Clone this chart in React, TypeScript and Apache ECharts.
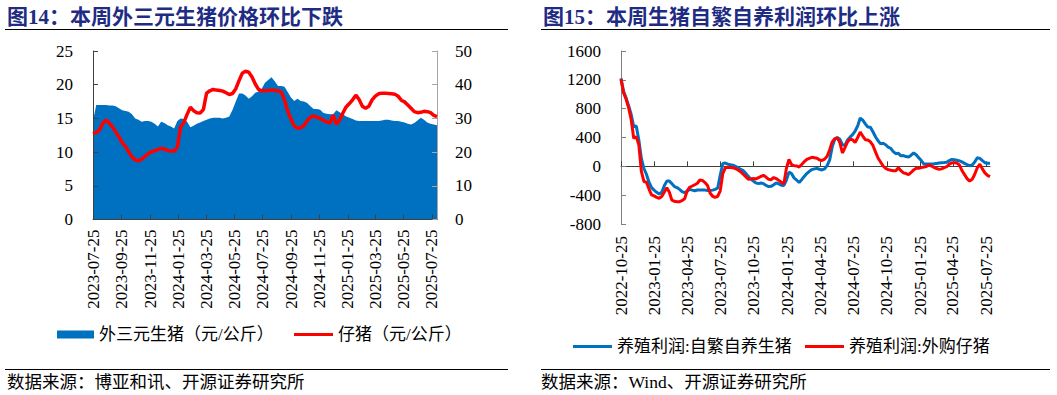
import React, { useEffect, useRef } from "react";
import * as echarts from "echarts";

// ---------- texts ----------
const leftTitle = "图14：本周外三元生猪价格环比下跌";
const rightTitle = "图15：本周生猪自繁自养利润环比上涨";
const leftSource = "数据来源：博亚和讯、开源证券研究所";
const rightSource = "数据来源：Wind、开源证券研究所";
const leftNames = ["外三元生猪（元/公斤）", "仔猪（元/公斤）"];
const rightNames = ["养殖利润:自繁自养生猪", "养殖利润:外购仔猪"];

// ---------- tick labels ----------
const leftTickLabels = [
  "2023-07-25", "2023-09-25", "2023-11-25", "2024-01-25", "2024-03-25", "2024-05-25", "2024-07-25",
  "2024-09-25", "2024-11-25", "2025-01-25", "2025-03-25", "2025-05-25", "2025-07-25",
];
const rightTickLabels = [
  "2022-10-25", "2023-01-25", "2023-04-25", "2023-07-25", "2023-10-25", "2024-01-25",
  "2024-04-25", "2024-07-25", "2024-10-25", "2025-01-25", "2025-04-25", "2025-07-25",
];

// ---------- weekly data ----------
const leftStart = "2023-07-25";
const rightStart = "2022-10-25";

// 外三元生猪（元/公斤）, left axis
const leftHog = [
  14.6, 17.0, 17.0, 17.0, 17.0, 16.9, 16.9, 16.8, 16.5, 16.2,
  16.1, 16.0, 15.6, 15.0, 14.8, 14.5, 14.6, 14.6, 14.5, 14.2,
  13.8, 14.5, 14.3, 14.0, 13.8, 13.5, 14.6, 15.0, 14.9, 14.5,
  13.7, 13.9, 14.2, 14.4, 14.6, 14.8, 15.0, 15.1, 15.1, 15.1,
  15.0, 15.1, 15.3, 16.3, 17.5, 18.7, 18.7, 18.4, 17.9, 18.3,
  18.8, 19.0, 19.4, 20.3, 20.7, 21.1, 20.5, 19.8, 19.8, 19.7,
  18.9, 18.1, 17.6, 17.9, 17.6, 17.5, 17.3, 16.8, 16.4, 16.4,
  16.3, 15.8, 15.7, 15.6, 15.6, 16.2, 15.9, 15.6, 15.3, 15.1,
  14.9, 14.7, 14.6, 14.6, 14.6, 14.6, 14.6, 14.6, 14.6, 14.7,
  14.8, 14.8, 14.7, 14.6, 14.6, 14.5, 14.4, 14.2, 14.1, 14.3,
  14.7, 15.1, 14.8, 14.4, 14.2, 14.1, 14.0,
];

// 仔猪（元/公斤）, right axis
const leftPiglet = [
  25.5, 25.8, 26.6, 28.5, 29.5, 28.7, 27.5, 26.0, 24.5, 22.8,
  21.7, 20.1, 18.6, 17.7, 17.4, 17.9, 18.7, 19.5, 20.1, 20.4,
  20.8, 21.1, 20.9, 20.5, 20.3, 20.3, 21.5, 27.5, 28.8, 31.2,
  33.3, 32.3, 31.7, 31.6, 32.6, 37.5, 38.2, 38.6, 38.4, 38.3,
  38.1, 37.6, 37.1, 37.4, 38.8, 41.2, 43.4, 44.0, 43.7, 42.3,
  40.2, 38.6, 38.2, 38.2, 38.3, 38.4, 38.3, 38.2, 37.8, 35.5,
  32.2, 29.7, 27.8, 27.1, 27.2, 27.9, 29.3, 30.4, 30.7, 30.4,
  30.0, 29.4, 29.0, 28.6, 31.0, 28.3, 29.5, 31.6, 33.4, 34.4,
  35.5, 36.9, 35.6, 33.6, 33.0, 33.6, 35.5, 36.6, 37.3, 37.5,
  37.5, 37.4, 37.3, 37.2, 36.6, 35.4, 34.9, 34.0, 33.0, 32.0,
  31.7, 31.8, 32.1, 32.0, 31.7, 30.9, 30.5,
];

// 养殖利润:自繁自养生猪
const rightSelf = [
  1220, 1040, 950, 840, 720, 550, 560, 365, 110, -30,
  -110, -220, -295, -330, -360, -385, -360, -270, -205, -205,
  -240, -280, -295, -320, -350, -365, -345, -320, -330, -338,
  -328, -328, -328, -330, -335, -335, -330, -320, -300, -120,
  40, 45, 30, 22, 15, 0, -20, -40, -60, -97,
  -140, -175, -205, -230, -240, -232, -240, -265, -280, -278,
  -255, -230, -243, -262, -265, -190, -80, -100, -160, -190,
  -225, -185, -140, -100, -70, -45, -35, -28, -40, -50,
  -35, 10, 90, 270, 375, 400, 375, 300, 290, 365,
  405, 440, 490, 560, 670, 640, 590, 545, 541, 480,
  410, 355, 312, 320, 300, 265, 250, 205, 175, 180,
  145, 150, 135, 130, 155, 185, 160, 120, 80, 35,
  32, 32, 32, 35, 40, 45, 50, 52, 58, 80,
  95, 92, 85, 75, 62, 40, 25, 8, 20, 60,
  120, 110, 80, 50, 42, 42,
];

// 养殖利润:外购仔猪
const rightBought = [
  1210, 1020, 930, 810, 650, 390, 410, 300, -70, -210,
  -220, -315, -395, -410, -430, -444, -420, -360, -295, -360,
  -470, -485, -490, -490, -475, -450, -340, -290, -273, -255,
  -235, -190, -195, -225, -265, -370, -415, -430, -415, -340,
  -100, -20, -14, -16, -20, -33, -50, -74, -110, -143,
  -180, -175, -170, -175, -158, -140, -125, -150, -180, -185,
  -155, -170, -195, -220, -243, -28, 95, 25, 10, 5,
  -10, 25, 65, 95, 110, 125, 118, 111, 90, 80,
  100, 140, 230, 340, 385, 395, 330, 185, 260, 340,
  375, 370, 330, 400, 475, 420, 370, 365, 340, 290,
  200, 115, 60, 5, -28, -45, -55, -60, -60, -20,
  -60, -90, -100, -115, -85, -50, -28, -28, -18, -10,
  -2, 18, 5, -15, -30, -42, -35, -18, -5, 30,
  48, 51, 45, 18, -60, -115, -170, -205, -180, -110,
  -20, 30, -35, -90, -125, -143,
];

// ---------- helpers (x is measured in days since the first date) ----------
const DAY = 86400000;
const ts = (s: string) => Date.parse(s + "T00:00:00Z");
const dayOf = (start: string) => (s: string) => Math.round((ts(s) - ts(start)) / DAY);
const weeklyDays = (n: number) => {
  const out: number[] = [];
  for (let i = 0; i < n; i++) out.push(i * 7);
  return out;
};
const pairs = (days: number[], vals: number[]) => vals.map((v, i) => [days[i], v]);

const leftDays = weeklyDays(leftHog.length);
const rightDays = weeklyDays(rightSelf.length);
const leftTicks = leftTickLabels.map(dayOf(leftStart));
const rightTicks = rightTickLabels.map(dayOf(rightStart));
const labelFor = (ticks: number[], labels: string[]) => (v: number) => {
  const i = ticks.findIndex((t) => Math.abs(t - v) < 0.5);
  return i >= 0 ? labels[i] : "";
};
const plain = (v: number) => String(v);

const SERIF = "'Liberation Serif', 'Times New Roman', 'Noto Sans CJK SC', serif";
const BLUE = "#0070C0";
const RED = "#FF0000";

export default function App() {
  const ref = useRef<HTMLDivElement>(null);
  useEffect(() => {
    if (!ref.current) return;
    const chart = echarts.init(ref.current, undefined, { renderer: "svg" });
    const labelStyle = { fontSize: 17, fontFamily: SERIF, color: "#000" };
    const legendText = { fontSize: 17, fontFamily: SERIF, color: "#000" };
    const option: any = {
      animation: false,
      backgroundColor: "#fff",
      grid: [
        { left: 93, top: 51, width: 344, height: 168.5 },
        { left: 621, top: 51, width: 369, height: 173 },
      ],
      xAxis: [
        {
          type: "value", gridIndex: 0, min: 0, max: leftDays[leftDays.length - 1], z: 3,
          axisLine: { onZero: false, lineStyle: { color: "#404040", width: 1 } },
          axisTick: { show: true, inside: true, length: 5, customValues: leftTicks, lineStyle: { color: "#404040" } },
          axisLabel: { ...labelStyle, customValues: leftTicks, rotate: 90, margin: 10, formatter: labelFor(leftTicks, leftTickLabels) },
          splitLine: { show: false },
        },
        {
          type: "value", gridIndex: 1, min: 0, max: rightDays[rightDays.length - 1], position: "bottom",
          axisLine: { show: false, onZero: false },
          axisTick: { show: false },
          axisLabel: { ...labelStyle, customValues: rightTicks, rotate: 90, margin: 12, formatter: labelFor(rightTicks, rightTickLabels) },
          splitLine: { show: false },
        },
        {
          type: "value", gridIndex: 1, min: 0, max: rightDays[rightDays.length - 1], position: "bottom", z: 3,
          axisLine: { show: true, onZero: true, lineStyle: { color: "#404040", width: 1 } },
          axisTick: { show: true, inside: true, length: 5, customValues: rightTicks, lineStyle: { color: "#404040" } },
          axisLabel: { show: false },
          splitLine: { show: false },
        },
      ],
      yAxis: [
        {
          type: "value", gridIndex: 0, min: 0, max: 25, interval: 5, z: 3,
          axisLine: { show: true, lineStyle: { color: "#404040" } },
          axisTick: { show: true, inside: true, length: 5, lineStyle: { color: "#404040" } },
          axisLabel: { ...labelStyle, margin: 20, formatter: plain },
          splitLine: { show: false },
        },
        {
          type: "value", gridIndex: 0, position: "right", min: 0, max: 50, interval: 10, z: 3,
          axisLine: { show: true, lineStyle: { color: "#A6A6A6" } },
          axisTick: { show: true, inside: true, length: 5, lineStyle: { color: "#A6A6A6" } },
          axisLabel: { ...labelStyle, margin: 18, formatter: plain },
          splitLine: { show: false },
        },
        {
          type: "value", gridIndex: 1, min: -800, max: 1600, interval: 400, z: 3,
          axisLine: { show: true, lineStyle: { color: "#808080" } },
          axisTick: { show: true, inside: true, length: 5, lineStyle: { color: "#808080" } },
          axisLabel: { ...labelStyle, margin: 20, formatter: plain },
          splitLine: { show: false },
        },
      ],
      legend: [
        {
          data: [{ name: leftNames[0], icon: "rect", itemStyle: { color: BLUE } }],
          left: 57, top: 326, padding: 0, itemWidth: 37, itemHeight: 8, selectedMode: false,
          textStyle: legendText,
        },
        {
          data: [{ name: leftNames[1], icon: "rect", itemStyle: { color: RED } }],
          left: 294, top: 326, padding: 0, itemWidth: 39, itemHeight: 3, selectedMode: false,
          textStyle: legendText,
        },
        {
          data: [{ name: rightNames[0], icon: "rect", itemStyle: { color: BLUE } }],
          left: 573, top: 338, padding: 0, itemWidth: 39, itemHeight: 3, selectedMode: false,
          textStyle: legendText,
        },
        {
          data: [{ name: rightNames[1], icon: "rect", itemStyle: { color: RED } }],
          left: 805, top: 338, padding: 0, itemWidth: 39, itemHeight: 3, selectedMode: false,
          textStyle: legendText,
        },
      ],
      series: [
        {
          name: leftNames[0], type: "line", xAxisIndex: 0, yAxisIndex: 0, data: pairs(leftDays, leftHog),
          symbol: "none", itemStyle: { color: BLUE }, lineStyle: { width: 0, color: BLUE },
          areaStyle: { color: BLUE, opacity: 1 },
        },
        {
          name: leftNames[1], type: "line", xAxisIndex: 0, yAxisIndex: 1, data: pairs(leftDays, leftPiglet),
          symbol: "none", itemStyle: { color: RED }, lineStyle: { width: 3.5, color: RED },
        },
        {
          name: rightNames[0], type: "line", xAxisIndex: 1, yAxisIndex: 2, data: pairs(rightDays, rightSelf),
          symbol: "none", itemStyle: { color: BLUE }, lineStyle: { width: 3, color: BLUE },
        },
        {
          name: rightNames[1], type: "line", xAxisIndex: 1, yAxisIndex: 2, data: pairs(rightDays, rightBought),
          symbol: "none", itemStyle: { color: RED }, lineStyle: { width: 3, color: RED },
        },
      ],
      graphic: [
        { type: "text", x: 7, y: 16.5, style: { text: leftTitle, font: `bold 21px ${SERIF}`, fill: "#1F2C84", verticalAlign: "middle" } },
        { type: "text", x: 543, y: 16.5, style: { text: rightTitle, font: `bold 21px ${SERIF}`, fill: "#1F2C84", verticalAlign: "middle" } },
        { type: "line", shape: { x1: 5, y1: 29.5, x2: 508, y2: 29.5 }, style: { stroke: "#000", lineWidth: 1 } },
        { type: "line", shape: { x1: 541, y1: 29.5, x2: 1050, y2: 29.5 }, style: { stroke: "#000", lineWidth: 1 } },
        { type: "line", shape: { x1: 5, y1: 369.5, x2: 508, y2: 369.5 }, style: { stroke: "#000", lineWidth: 1 } },
        { type: "line", shape: { x1: 541, y1: 369.5, x2: 1050, y2: 369.5 }, style: { stroke: "#000", lineWidth: 1 } },
        { type: "text", x: 7, y: 382, style: { text: leftSource, font: `17.5px ${SERIF}`, fill: "#000", verticalAlign: "middle" } },
        { type: "text", x: 541, y: 382, style: { text: rightSource, font: `17.5px ${SERIF}`, fill: "#000", verticalAlign: "middle" } },
      ],
    };
    chart.setOption(option);
    return () => chart.dispose();
  }, []);
  return (
    <div
      ref={ref}
      style={{ position: "absolute", left: 0, top: 0, width: 1057, height: 395, background: "#fff" }}
    />
  );
}
